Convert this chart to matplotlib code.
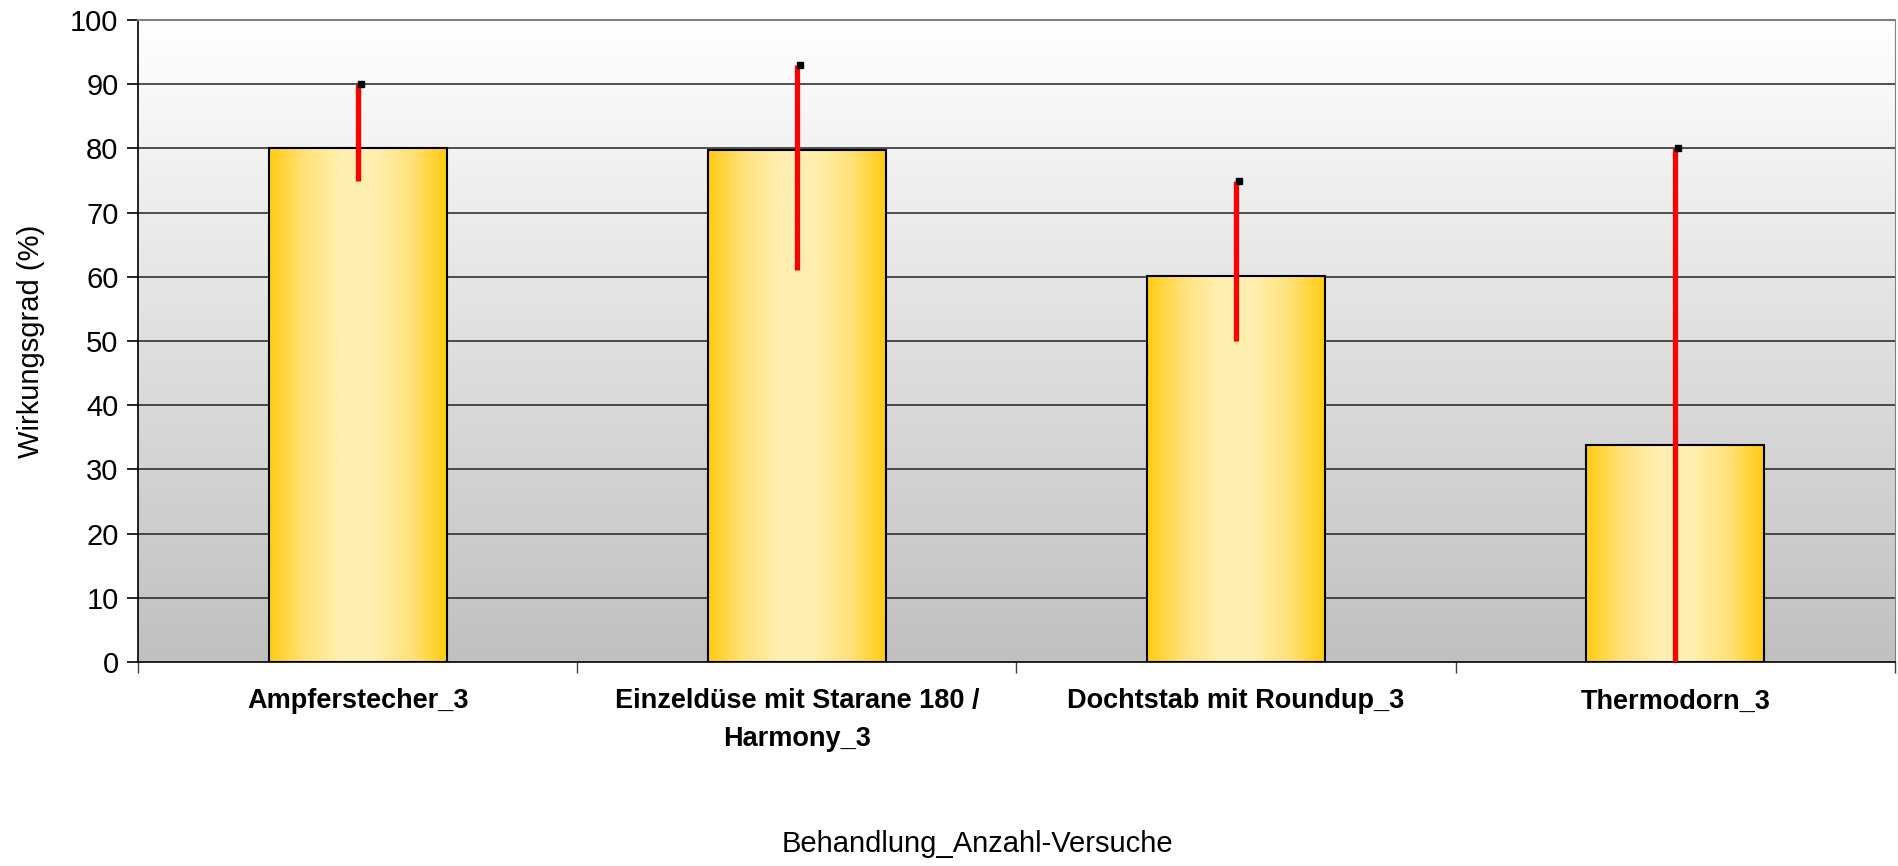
import numpy as np
import matplotlib
matplotlib.use('Agg')
import matplotlib.pyplot as plt
from matplotlib.colors import LinearSegmentedColormap
from matplotlib.transforms import offset_copy

# data
categories = ['Ampferstecher_3', 'Einzeldüse mit Starane 180 /\nHarmony_3',
              'Dochtstab mit Roundup_3', 'Thermodorn_3']
values = [80.0, 79.7, 60.1, 33.8]
err_low = [75.0, 61.0, 50.0, 0.0]
err_high = [90.0, 93.0, 75.0, 80.0]
y_ticks = list(range(0, 101, 10))

plt.rcParams['font.family'] = ['Liberation Sans', 'DejaVu Sans']

fig = plt.figure(figsize=(18.99, 8.66), dpi=100)
ax = fig.add_axes([138 / 1899, 1 - 662 / 866, (1895 - 138) / 1899, (662 - 20) / 866])

ax.set_xlim(0, len(categories))
ax.set_ylim(0, 100)

# plot area background: white at top, grey at bottom
bg = LinearSegmentedColormap.from_list('bg', ['#c0c0c0', '#ffffff'])
ax.imshow(np.linspace(0, 1, 256).reshape(-1, 1), cmap=bg, aspect='auto',
          extent=(0, len(categories), 0, 100), origin='lower', zorder=0)

# gridlines
for t in y_ticks[1:]:
    ax.axhline(t, color='#222222', lw=1.1, zorder=1)

# bars with horizontal gold gradient
gold = LinearSegmentedColormap.from_list(
    'gold', ['#ffcb11', '#ffe27a', '#ffefb0', '#ffefb0', '#ffe27a', '#ffcb11'])
grad = np.linspace(0, 1, 256).reshape(1, -1)
x = np.arange(len(categories)) + 0.5
width = 0.405
bars = ax.bar(x, values, width=width, color='none', edgecolor='black', lw=1.5, zorder=3)
for b in bars:
    x0, y0 = b.get_x(), b.get_y()
    im = ax.imshow(grad, cmap=gold, aspect='auto',
                   extent=(x0, x0 + b.get_width(), y0, y0 + b.get_height()), zorder=2)
    im.set_clip_path(b)

# error bars: red line, small black cap on top
ax.vlines(x, err_low, err_high, color='#ff0000', lw=3.8, zorder=4)
cap_tr = offset_copy(ax.transData, fig=fig, x=3, y=0, units='dots')
ax.plot(x, err_high, ls='none', marker='s', ms=4.5, color='black', mec='black',
        transform=cap_tr, zorder=5)

# axes styling
for s in ['left', 'bottom']:
    ax.spines[s].set_color('black')
    ax.spines[s].set_linewidth(1.2)
ax.spines['top'].set_color('#808080')
ax.spines['right'].set_color('#808080')
ax.spines['top'].set_linewidth(1.5)

ax.set_yticks(y_ticks)
ax.tick_params(axis='y', direction='out', length=8, width=1.2, labelsize=21, pad=6)

ax.set_xticks(np.arange(len(categories) + 1))
ax.set_xticklabels([])
ax.tick_params(axis='x', which='major', direction='out', length=8, width=1, color='#404040')
ax.set_xticks(x, minor=True)
ax.set_xticklabels(categories, minor=True, fontsize=19.5, fontweight='bold', linespacing=1.6)
ax.tick_params(axis='x', which='minor', length=0, pad=19)

ax.set_ylabel('Wirkungsgrad (%)', fontsize=21, labelpad=18)
ax.set_xlabel('Behandlung_Anzahl-Versuche', fontsize=21)
ax.xaxis.set_label_coords(0.4775, -0.262)

fig.savefig('out.png', dpi=100)
